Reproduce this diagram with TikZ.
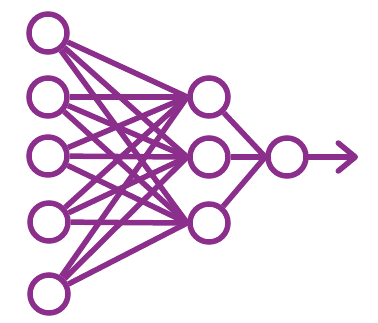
\documentclass[tikz,border=0pt]{standalone}
\usetikzlibrary{arrows.meta}
\definecolor{netpurple}{RGB}{140,46,140}
\tikzset{
  netlines/.style={line width=5.5pt, draw=netpurple},
  neuron/.style={netlines, circle, fill=white, minimum size=38pt, inner sep=0pt},
  link/.style={netlines},
  outarrow/.style={netlines, line cap=round, -{Straight Barb[length=17pt,width=28pt,round]}},
}

\begin{document}
\begin{tikzpicture}[x=1pt,y=-1pt]
\useasboundingbox (0,0) rectangle (378,323);
\node[neuron] (i1) at (48,33) {};
\node[neuron] (i2) at (48,97) {};
\node[neuron] (i3) at (48,156) {};
\node[neuron] (i4) at (49,222) {};
\node[neuron] (i5) at (49,294) {};
\node[neuron] (h1) at (209,97) {};
\node[neuron] (h2) at (209,157) {};
\node[neuron] (h3) at (209,223) {};
\node[neuron] (o) at (287,157) {};
\coordinate (tip) at (358,157);
\foreach \i in {i1,i2,i3,i4,i5}
  \foreach \h in {h1,h2,h3}
    \draw[link] (\i) -- (\h.west);
\foreach \h in {h1,h2,h3}
  \draw[link] (\h) -- (o.west);
\draw[outarrow] (o) -- (tip);
\end{tikzpicture}
\end{document}
